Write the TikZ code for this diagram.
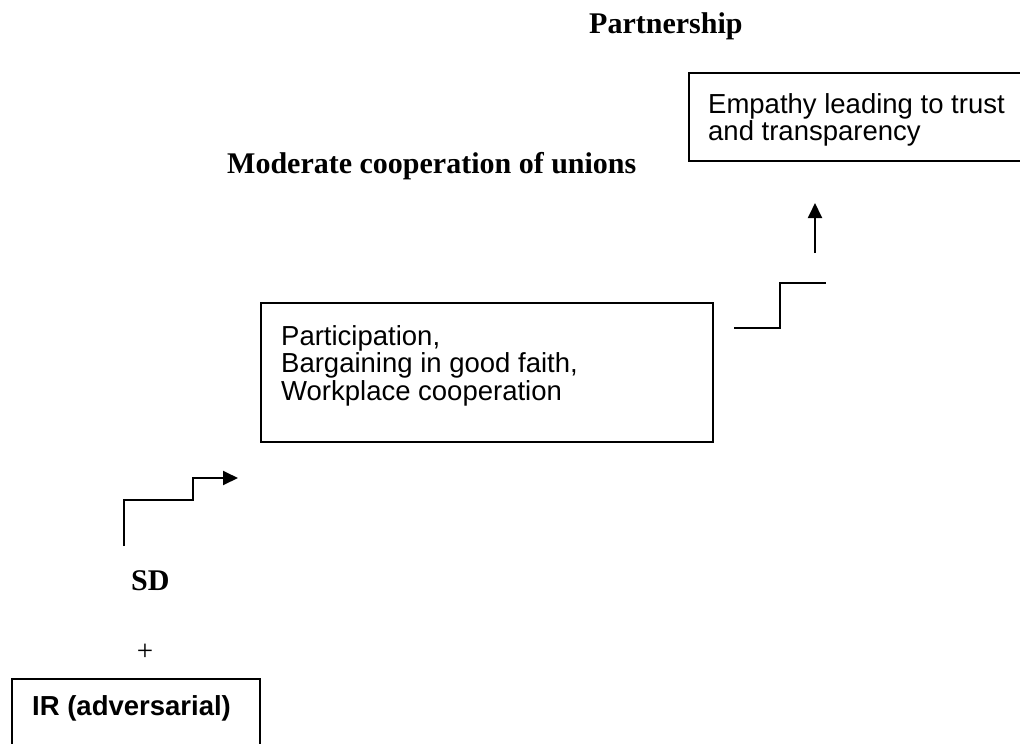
\documentclass[tikz,border=0pt]{standalone}
\usepackage{fontspec}
\setmainfont{Liberation Serif}
\newfontfamily\arialfont{Liberation Sans}
\usetikzlibrary{arrows.meta}
\tikzset{
  x=1pt, y=1pt,
  boxline/.style={draw=black, line width=1.6pt},
  stairline/.style={draw=black, line width=1.9pt},
  tip/.style={-{Triangle[length=15pt,width=14pt]}},
  sanstext/.style={anchor=base west, inner sep=0pt, font=\arialfont\fontsize{27.5}{27.5}\selectfont},
  sansbold/.style={anchor=base west, inner sep=0pt, font=\arialfont\bfseries\fontsize{27.5}{27.5}\selectfont},
  seriftitle/.style={anchor=base west, inner sep=0pt, font=\bfseries\fontsize{30}{30}\selectfont},
}
\begin{document}
\begin{tikzpicture}
\useasboundingbox (0,0) rectangle (1020,-744);
% titles
\node[seriftitle] (partner) at (589,-33) {Partnership};
\node[seriftitle] (moderate) at (227,-173) {Moderate cooperation of unions};
\node[seriftitle] (sd) at (131,-590) {SD};
\node[anchor=base, inner sep=0pt, font=\fontsize{29}{29}\selectfont] (plus) at (145,-660) {+};
% Empathy box (right edge beyond the page)
\draw[boxline] (1030,-73) -- (689,-73) -- (689,-161) -- (1030,-161);
\node[sanstext] (emp1) at (708,-113) {Empathy leading to trust};
\node[sanstext] (emp2) at (708,-140) {and transparency};
% Participation box
\node[boxline, rectangle, minimum width=452pt, minimum height=139pt, anchor=north west, inner sep=0pt] (pbox) at (260,-302) {};
\node[sanstext] (p1) at (281,-345) {Participation,};
\node[sanstext] (p2) at (281,-372.5) {Bargaining in good faith,};
\node[sanstext] (p3) at (281,-400) {Workplace cooperation};
% IR box (bottom edge beyond the page)
\draw[boxline] (12,-760) -- (12,-679) -- (260,-679) -- (260,-760);
\node[sansbold] (ir) at (32,-715) {IR (adversarial)};
% lower stair with arrow
\coordinate (s1a) at (124,-546);
\coordinate (s1b) at (124,-500);
\coordinate (s1c) at (193,-500);
\coordinate (s1d) at (193,-478);
\coordinate (s1e) at (238,-478);
\draw[stairline, tip] (s1a) -- (s1b) -- (s1c) -- (s1d) -- (s1e);
% upper stair
\coordinate (s2a) at (734,-328);
\coordinate (s2b) at (780,-328);
\coordinate (s2c) at (780,-283);
\coordinate (s2d) at (826,-283);
\draw[stairline] (s2a) -- (s2b) -- (s2c) -- (s2d);
% upward arrow
\coordinate (upa) at (815,-253);
\coordinate (upb) at (815,-203);
\draw[stairline, tip] (upa) -- (upb);
\end{tikzpicture}
\end{document}
